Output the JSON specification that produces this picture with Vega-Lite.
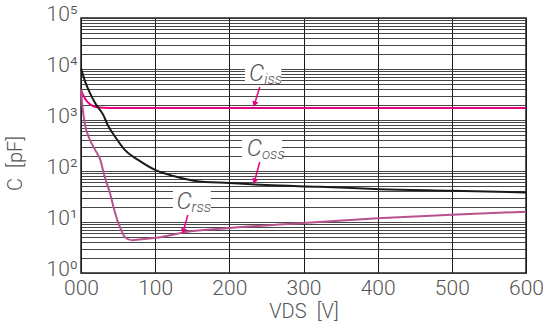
{
  "$schema": "https://vega.github.io/schema/vega-lite/v6.json",
  "width": 445,
  "height": 255,
  "autosize": {"type": "none"},
  "padding": {"left": 81, "top": 18, "right": 17, "bottom": 51},
  "background": "white",
  "config": {"view": {"stroke": "#222", "strokeWidth": 1.5}, "font": "Roboto"},
  "datasets": {
    "curves": [
      {"series": "Ciss", "V": 0, "C": 3900}, {"series": "Ciss", "V": 2, "C": 3300}, {"series": "Ciss", "V": 5, "C": 2700},
      {"series": "Ciss", "V": 9, "C": 2250}, {"series": "Ciss", "V": 14, "C": 1950}, {"series": "Ciss", "V": 20, "C": 1800},
      {"series": "Ciss", "V": 30, "C": 1740}, {"series": "Ciss", "V": 50, "C": 1720}, {"series": "Ciss", "V": 100, "C": 1710},
      {"series": "Ciss", "V": 200, "C": 1710}, {"series": "Ciss", "V": 300, "C": 1710}, {"series": "Ciss", "V": 400, "C": 1710},
      {"series": "Ciss", "V": 500, "C": 1710}, {"series": "Ciss", "V": 600, "C": 1710},
      {"series": "Coss", "V": 0, "C": 10300}, {"series": "Coss", "V": 5, "C": 6000}, {"series": "Coss", "V": 12, "C": 3400},
      {"series": "Coss", "V": 19, "C": 2150}, {"series": "Coss", "V": 30, "C": 1260}, {"series": "Coss", "V": 36, "C": 800},
      {"series": "Coss", "V": 46, "C": 470}, {"series": "Coss", "V": 59, "C": 260}, {"series": "Coss", "V": 77, "C": 165},
      {"series": "Coss", "V": 100, "C": 105}, {"series": "Coss", "V": 127, "C": 78}, {"series": "Coss", "V": 154, "C": 64},
      {"series": "Coss", "V": 200, "C": 58}, {"series": "Coss", "V": 250, "C": 53}, {"series": "Coss", "V": 322, "C": 49},
      {"series": "Coss", "V": 403, "C": 44}, {"series": "Coss", "V": 500, "C": 41}, {"series": "Coss", "V": 600, "C": 38},
      {"series": "Crss", "V": 0, "C": 3900}, {"series": "Crss", "V": 2, "C": 1800}, {"series": "Crss", "V": 5, "C": 870},
      {"series": "Crss", "V": 12, "C": 410}, {"series": "Crss", "V": 19, "C": 260}, {"series": "Crss", "V": 26, "C": 165},
      {"series": "Crss", "V": 32, "C": 76}, {"series": "Crss", "V": 39, "C": 37}, {"series": "Crss", "V": 46, "C": 15},
      {"series": "Crss", "V": 53, "C": 7.6}, {"series": "Crss", "V": 59, "C": 5.1}, {"series": "Crss", "V": 69, "C": 4.4},
      {"series": "Crss", "V": 82, "C": 4.6}, {"series": "Crss", "V": 109, "C": 5.1}, {"series": "Crss", "V": 140, "C": 6.3},
      {"series": "Crss", "V": 200, "C": 7.6}, {"series": "Crss", "V": 300, "C": 9.6}, {"series": "Crss", "V": 400, "C": 11.8},
      {"series": "Crss", "V": 500, "C": 13.9}, {"series": "Crss", "V": 600, "C": 15.9}
    ],
    "boxes": [
      {"series": "Ciss", "V": 221, "V2": 270, "C": 13100, "C2": 5080},
      {"series": "Coss", "V": 217, "V2": 271, "C": 465, "C2": 157},
      {"series": "Crss", "V": 124, "V2": 175, "C": 42.4, "C2": 15}
    ],
    "labels": [
      {"series": "Ciss", "V": 247, "C": 7980, "main": "C", "sub": "iss"},
      {"series": "Coss", "V": 244, "C": 270, "main": "C", "sub": "oss"},
      {"series": "Crss", "V": 149, "C": 24.7, "main": "C", "sub": "rss"}
    ],
    "arrows": [
      {"series": "Ciss", "V": 241, "C": 4440, "V2": 234, "C2": 2050, "angle": 18},
      {"series": "Coss", "V": 241, "C": 150, "V2": 234, "C2": 63, "angle": 18},
      {"series": "Crss", "V": 144, "C": 13.7, "V2": 138, "C2": 6.6, "angle": 16}
    ]
  },
  "layer": [
    {
      "data": {"name": "curves"},
      "mark": {"type": "line", "strokeWidth": 2, "interpolate": "monotone"},
      "encoding": {
        "x": {
          "field": "V", "type": "quantitative",
          "scale": {"domain": [0, 600], "nice": false},
          "axis": {
            "values": [0, 100, 200, 300, 400, 500, 600],
            "grid": true, "gridColor": "#1a1a1a", "gridWidth": 1,
            "ticks": false, "domain": false,
            "labelExpr": "datum.value == 0 ? '000' : datum.label",
            "labelFontSize": 21, "labelColor": "#555", "labelFontWeight": 300, "labelPadding": 4,
            "labelFlush": false, "labelOverlap": false,
            "title": "VDS\u2002[V]", "titleFontSize": 20, "titleFontWeight": 300, "titleColor": "#555", "titlePadding": 3
          }
        },
        "y": {
          "field": "C", "type": "quantitative",
          "scale": {"type": "log", "domain": [1, 100000], "nice": false},
          "axis": {
            "values": [1, 2, 3, 4, 5, 6, 7, 8, 9, 10, 20, 30, 40, 50, 60, 70, 80, 90, 100, 200, 300, 400, 500, 600, 700, 800, 900, 1000, 2000, 3000, 4000, 5000, 6000, 7000, 8000, 9000, 10000, 20000, 30000, 40000, 50000, 60000, 70000, 80000, 90000, 100000],
            "grid": true, "gridColor": "#333", "gridWidth": 0.9,
            "ticks": false, "domain": false,
            "labelExpr": "datum.value == 1 ? '10⁰' : datum.value == 10 ? '10¹' : datum.value == 100 ? '10²' : datum.value == 1000 ? '10³' : datum.value == 10000 ? '10⁴' : datum.value == 100000 ? '10⁵' : ''",
            "labelFontSize": 21, "labelColor": "#555", "labelFontWeight": 300, "labelPadding": 4,
            "labelOffset": -4, "labelFlush": false, "labelOverlap": false, "labelBound": false,
            "title": "C\u2002[pF]", "titleFontSize": 20, "titleFontWeight": 300, "titleColor": "#555",
            "titleX": -56, "titleY": 145
          }
        },
        "color": {
          "field": "series", "type": "nominal",
          "scale": {"domain": ["Ciss", "Coss", "Crss"], "range": ["#e6007e", "#1a1a1a", "#b8528c"]},
          "legend": null
        }
      }
    },
    {
      "data": {"name": "boxes"},
      "mark": {"type": "rect", "fill": "white"},
      "encoding": {
        "x": {"field": "V", "type": "quantitative"},
        "x2": {"field": "V2"},
        "y": {"field": "C", "type": "quantitative"},
        "y2": {"field": "C2"}
      }
    },
    {
      "data": {"name": "arrows"},
      "mark": {"type": "rule", "color": "#e6007e", "strokeWidth": 1.5},
      "encoding": {
        "x": {"field": "V", "type": "quantitative"},
        "x2": {"field": "V2"},
        "y": {"field": "C", "type": "quantitative"},
        "y2": {"field": "C2"}
      }
    },
    {
      "data": {"name": "arrows"},
      "mark": {"type": "point", "shape": "triangle-down", "filled": true, "color": "#e6007e", "size": 40, "opacity": 1},
      "encoding": {
        "x": {"field": "V2", "type": "quantitative"},
        "y": {"field": "C2", "type": "quantitative"},
        "angle": {"field": "angle", "type": "quantitative", "scale": null}
      }
    },
    {
      "data": {"name": "labels"},
      "mark": {"type": "text", "align": "right", "baseline": "middle", "fontSize": 24, "fontStyle": "italic", "fontWeight": 300, "color": "#555", "font": "Roboto"},
      "encoding": {
        "x": {"field": "V", "type": "quantitative"},
        "y": {"field": "C", "type": "quantitative"},
        "text": {"field": "main"}
      }
    },
    {
      "data": {"name": "labels"},
      "mark": {"type": "text", "align": "left", "baseline": "middle", "fontSize": 15, "fontStyle": "italic", "fontWeight": 300, "color": "#555", "dy": 5, "font": "Roboto"},
      "encoding": {
        "x": {"field": "V", "type": "quantitative"},
        "y": {"field": "C", "type": "quantitative"},
        "text": {"field": "sub"}
      }
    }
  ]
}
